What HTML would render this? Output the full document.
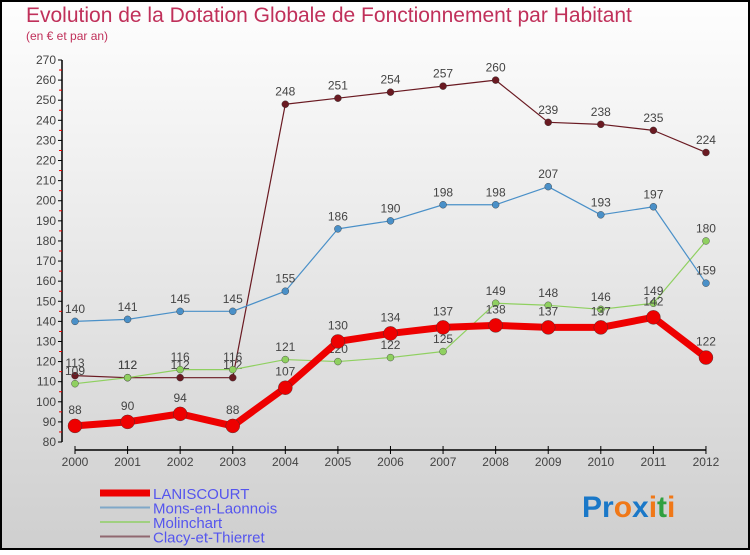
<!DOCTYPE html>
<html><head><meta charset="utf-8"><style>
body{margin:0;width:750px;height:550px;overflow:hidden;font-family:"Liberation Sans",sans-serif}
</style></head><body>
<svg id="c" width="750" height="550" xmlns="http://www.w3.org/2000/svg">
<defs><linearGradient id="bg" x1="0" y1="0" x2="0" y2="1"><stop offset="0" stop-color="#fefefe"/><stop offset="1" stop-color="#cfcfcf"/></linearGradient></defs>
<rect x="1" y="1" width="748" height="548" fill="url(#bg)" stroke="#000" stroke-width="2"/>
<text x="26" y="22" font-size="21" fill="#c0305a">Evolution de la Dotation Globale de Fonctionnement par Habitant</text>
<text x="26" y="40" font-size="12" fill="#c0305a">(en € et par an)</text>
<g id="axes"></g><g id="series"></g><g id="legend"></g>
<text x="582" y="517" font-size="30" font-weight="bold"><tspan fill="#1a78c8">Pr</tspan><tspan fill="#f07818">o</tspan><tspan fill="#1a78c8">x</tspan><tspan fill="#f07818">i</tspan><tspan fill="#30a040">t</tspan><tspan fill="#f07818">i</tspan></text>
</svg>
<script>
const years=[2000,2001,2002,2003,2004,2005,2006,2007,2008,2009,2010,2011,2012];
const yTicks=[80,90,100,110,120,130,140,150,160,170,180,190,200,210,220,230,240,250,260,270];
const laniscourt=[88,90,94,88,107,130,134,137,138,137,137,142,122];
const mons=[140,141,145,145,155,186,190,198,198,207,193,197,159];
const molinchart=[109,112,116,116,121,120,122,125,149,148,146,149,180];
const clacy=[113,112,112,112,248,251,254,257,260,239,238,235,224];
const NS="http://www.w3.org/2000/svg";
const X=i=>75+i*52.58;
const Y=v=>442-(v-80)*2.0105;
function mk(t,a,p){const e=document.createElementNS(NS,t);for(const k in a)e.setAttribute(k,a[k]);p.appendChild(e);return e;}
const ax=document.getElementById('axes');
let l=mk('line',{x1:62,y1:Y(270),x2:62,y2:Y(80),stroke:'#000','stroke-width':1.5},ax);


yTicks.forEach(v=>{
 const t=mk('line',{x1:58,x2:62,y1:Y(v),y2:Y(v),stroke:'#000'},ax);
 
 
 if(v<270){const m=mk('line',{x1:59,x2:62,y1:Y(v+5),y2:Y(v+5),stroke:'#e00'},ax);
 
 }
 const tx=mk('text',{x:56,y:Y(v)+4,'font-size':12,'text-anchor':'end',fill:'#444'},ax);tx.textContent=v;
 
 
});
l=mk('line',{x1:X(0),x2:X(12),y1:450,y2:450,stroke:'#000','stroke-width':1.5},ax);


years.forEach((y,i)=>{
 const t=mk('line',{x1:X(i),x2:X(i),y1:446,y2:454,stroke:'#000'},ax);
 
 
 const tx=mk('text',{x:X(i),y:466,'font-size':12,'text-anchor':'middle',fill:'#444'},ax);tx.textContent=y;
 
 
});
const sg=document.getElementById('series');
const series=[
 {name:'clacy-et-thierret',d:clacy,c:'#6a1a22',w:1.2,r:3.5},
 {name:'molinchart',d:molinchart,c:'#8fd060',w:1.2,r:3.5},
 {name:'mons-en-laonnois',d:mons,c:'#4a90c8',w:1.2,r:3.5},
 {name:'laniscourt',d:laniscourt,c:'#ee0000',w:7,r:7}
];
series.forEach(s=>{
 const g=mk('g',{},sg);
 
 
 const p=mk('polyline',{points:s.d.map((v,i)=>X(i)+','+Y(v)).join(' '),fill:'none',stroke:s.c,'stroke-width':s.w,'stroke-linejoin':'round'},g);
 
 
 s.d.forEach((v,i)=>{
  const c=mk('circle',{cx:X(i),cy:Y(v),r:s.r,fill:s.c,stroke:'#333','stroke-width':0.4},g);
  
  
  const t=mk('text',{x:X(i),y:Y(v)-(s.r+5),'font-size':12,'text-anchor':'middle',fill:'#444'},g);t.textContent=v;
  
  
 });
});
const lg=document.getElementById('legend');
const leg=[['LANISCOURT','#ee0000',7],['Mons-en-Laonnois','#80a8c8',2],['Molinchart','#a0d080',2],['Clacy-et-Thierret','#906870',2]];
leg.forEach((e,i)=>{
 const y=493+i*14.5;
 const ln=mk('line',{x1:100,x2:150,y1:y,y2:y,stroke:e[1],'stroke-width':e[2]},lg);
 
 
 const t=mk('text',{x:153,y:y+6,'font-size':15,fill:'#5555ee'},lg);t.textContent=e[0];
 
 
});
</script>
</body></html>
